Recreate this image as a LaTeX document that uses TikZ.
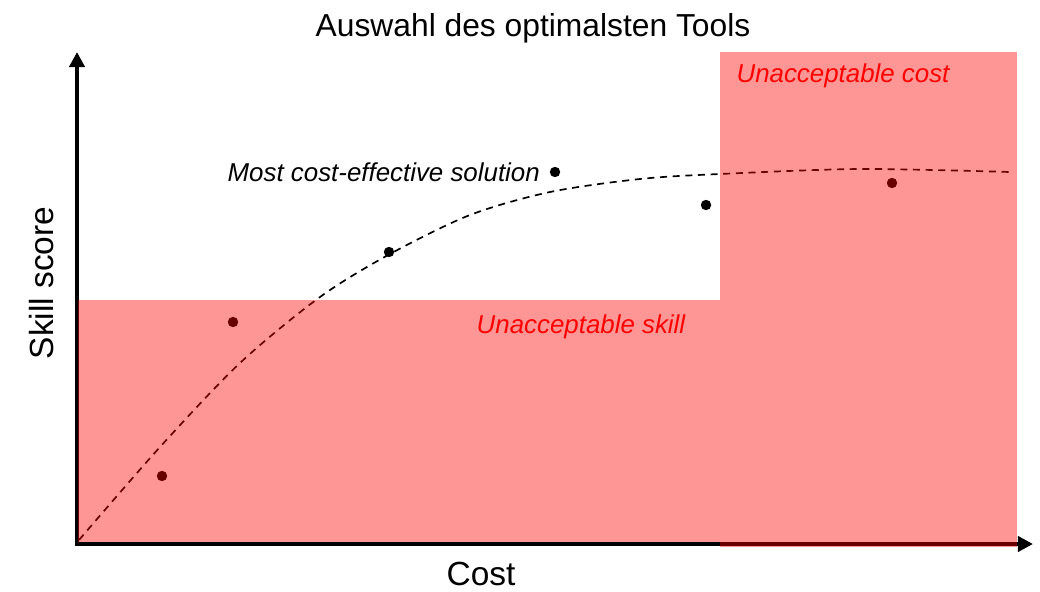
\documentclass[tikz,border=0pt]{standalone}
\usepackage{fontspec}
\setmainfont{Liberation Sans}
\usetikzlibrary{arrows.meta,positioning}
\tikzset{
  axis/.style={line width=2.8pt,-{Triangle[length=0.38cm,width=0.38cm]}},
  dot/.style={circle,fill=black,inner sep=0pt,minimum size=0.26cm},
  zone/.style={fill=red,fill opacity=0.41,draw=none},
  zonelabel/.style={text=red,font=\fontsize{18.4}{22}\selectfont\itshape},
  axislabel/.style={inner sep=0pt,font=\fontsize{23.8}{28}\selectfont},
  trend/.style={line width=1.2pt,dash pattern=on 5pt off 4pt}
}
\begin{document}
\begin{tikzpicture}[x=0.025cm,y=-0.025cm]
  \useasboundingbox (0,0) rectangle (1040,592);
  % axes
  \coordinate (o) at (77,544);
  \coordinate (ytip) at (77,52);
  \coordinate (xtip) at (1033,544);
  \draw[axis] ([yshift=-1.4pt]o) -- (ytip);
  \draw[axis] ([xshift=-1.4pt]o) -- (xtip);
  \node[font=\fontsize{22.6}{27}\selectfont] (title) at (533,28) {Auswahl des optimalsten Tools};
  \node[axislabel] (xlab) at (481,574) {Cost};
  \node[axislabel,rotate=90] (ylab) at (42,283) {Skill score};
  % tools
  \node[dot] (t1) at (162,476) {};
  \node[dot] (t2) at (233,322) {};
  \node[dot] (t3) at (389,252) {};
  \node[dot] (t4) at (555,172) {};
  \node[dot] (t5) at (706,205) {};
  \node[dot] (t6) at (892,183) {};
  \node[font=\fontsize{18.4}{22}\selectfont\itshape,left=0.12cm of t4] (best) {Most cost-effective solution};
  % trend line
  \draw[trend] plot[smooth,tension=0.5] coordinates {(79,540) (160,447) (240,363) (320,297) (390,254) (470,215) (550,192) (640,179) (720,174) (860,169) (1010,172)};
  % unacceptable regions
  \path[zone] (78,300) rectangle (720,541.5);
  \path[zone] (720,52) rectangle (1017,546.5);
  \node[zonelabel] (skill) at (581,327) {Unacceptable skill};
  \node[zonelabel] (cost) at (843,76) {Unacceptable cost};
\end{tikzpicture}
\end{document}
